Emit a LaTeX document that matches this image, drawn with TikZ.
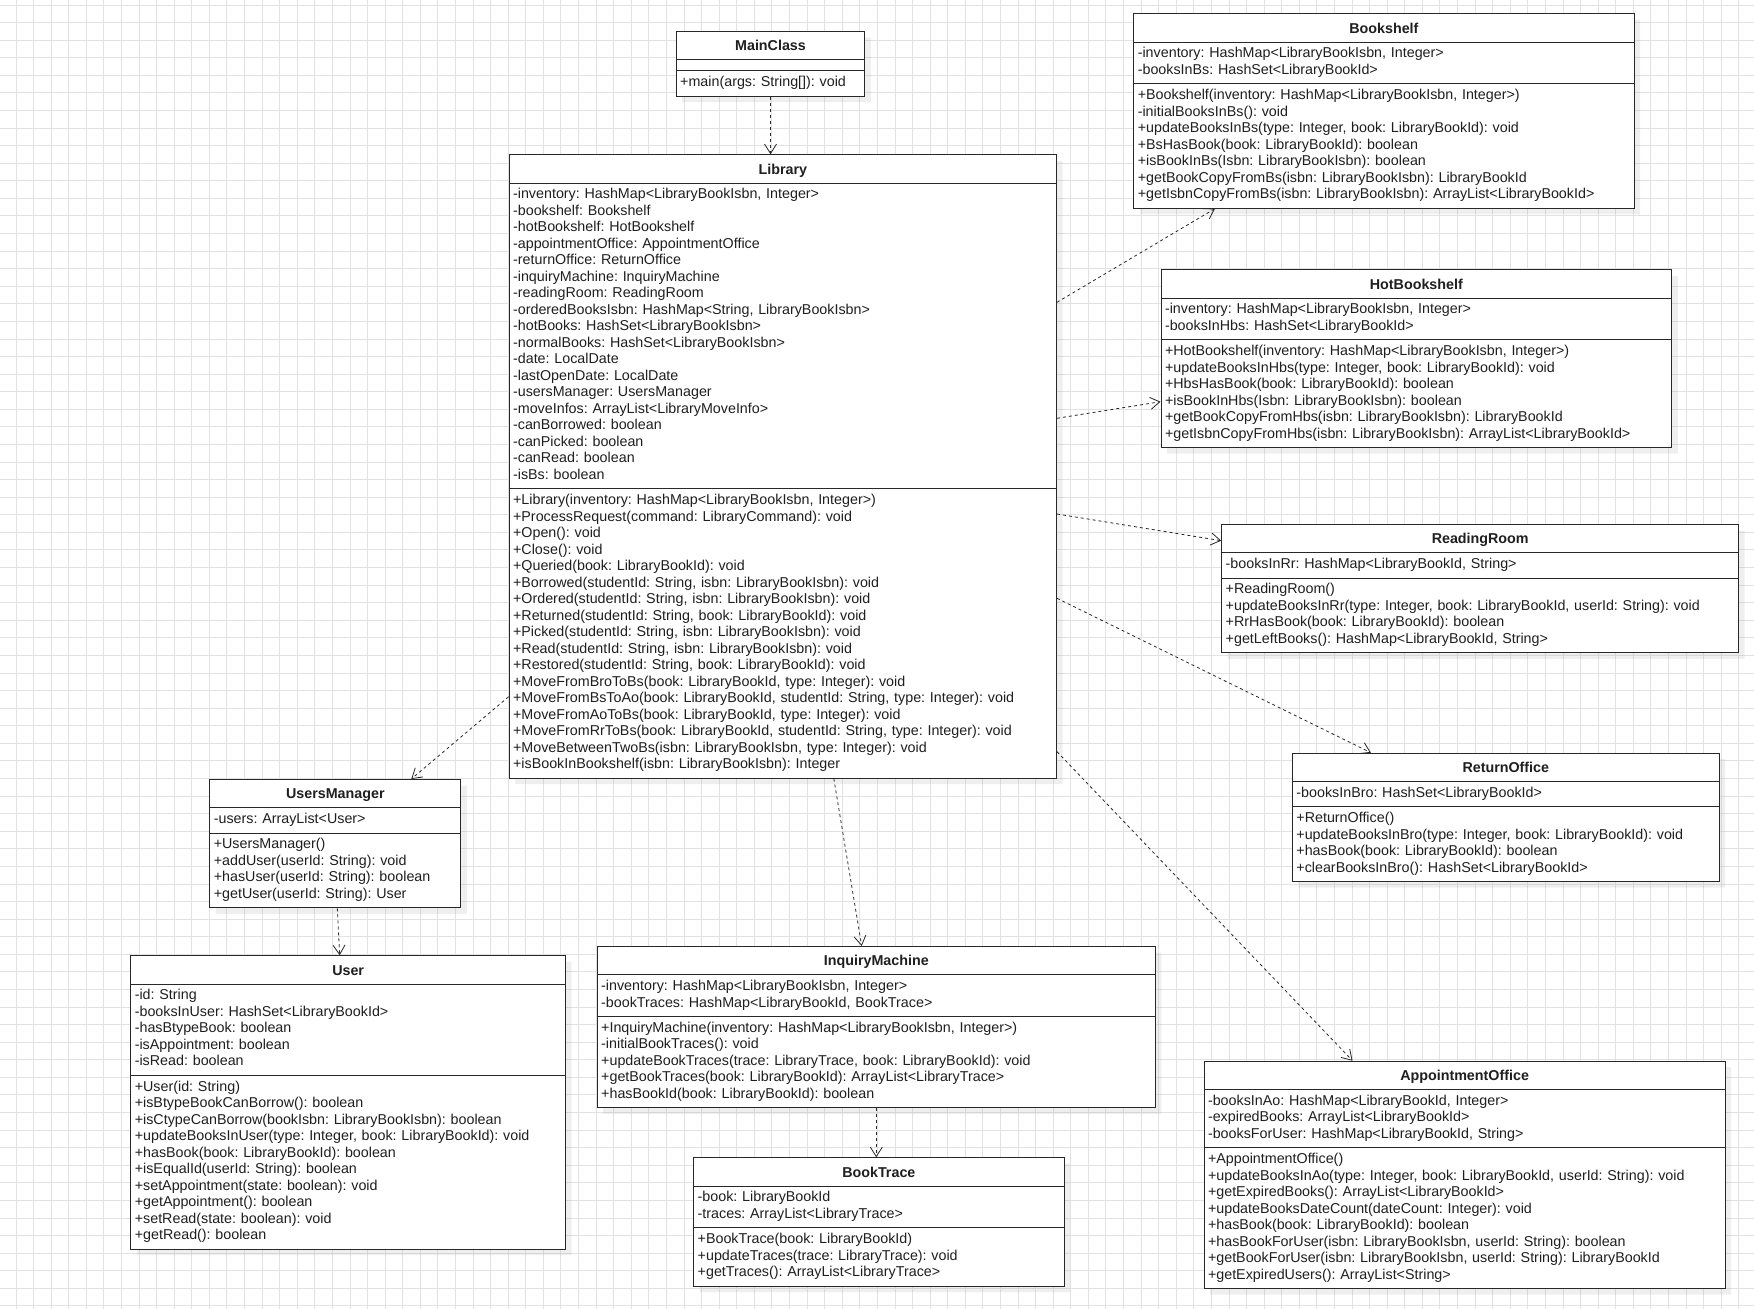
\documentclass[tikz,border=0pt]{standalone}
\usepackage{fontspec}
\setmainfont{Liberation Sans}
\usepackage{tikz}
\usetikzlibrary{arrows.meta,shapes.multipart,shadows}
\definecolor{gridgray}{RGB}{226,226,226}
\definecolor{umlline}{RGB}{40,40,40}
\frenchspacing

\begin{document}
\begin{tikzpicture}[x=1pt,y=-1pt, every node/.style={font=\fontsize{14.3}{16.5}\selectfont}]
    % Styles
    \tikzset{gridline/.style={draw=gridgray,line width=1pt}}
    \tikzset{umlclass/.style={rectangle split,rectangle split parts=3,draw=umlline,line width=1pt,fill=white,
        align=left,inner xsep=4pt,inner ysep=3.9pt,anchor=north west,text=black!88,
        drop shadow={shadow xshift=6pt,shadow yshift=-6pt,opacity=0.12}}}
    \tikzset{dep/.style={draw=umlline,line width=0.8pt,dash pattern=on 3pt off 3pt,
        -{Straight Barb[length=9.5pt,width=12pt]}}}

    % Page and grid
    \fill[white] (0,0) rectangle (1754,1309);
    \useasboundingbox (0,0) rectangle (1754,1309);
    \foreach \i in {0,...,99} \draw[gridline] ({16+17.58*\i},0) -- ({16+17.58*\i},1309);
    \foreach \j in {0,...,74} \draw[gridline] (0,{5+17.58*\j}) -- (1754,{5+17.58*\j});

    % Classes
    \node[umlclass,text width=180.6pt] (main) at (675.7,31) {\makebox[\linewidth]{\rule[-4.4pt]{0pt}{19.4pt}\textbf{MainClass}}
      \nodepart{second}\rule{0pt}{2.2pt}
      \nodepart{third}\strut+main(args: String[]): void\strut};

    \node[umlclass,text width=539.4pt] (lib) at (508.6,154.3) {\makebox[\linewidth]{\rule[-4.4pt]{0pt}{19.4pt}\textbf{Library}}
      \nodepart{second}\strut-inventory: HashMap<LibraryBookIsbn, Integer>\\
      -bookshelf: Bookshelf\\
      -hotBookshelf: HotBookshelf\\
      -appointmentOffice: AppointmentOffice\\
      -returnOffice: ReturnOffice\\
      -inquiryMachine: InquiryMachine\\
      -readingRoom: ReadingRoom\\
      -orderedBooksIsbn: HashMap<String, LibraryBookIsbn>\\
      -hotBooks: HashSet<LibraryBookIsbn>\\
      -normalBooks: HashSet<LibraryBookIsbn>\\
      -date: LocalDate\\
      -lastOpenDate: LocalDate\\
      -usersManager: UsersManager\\
      -moveInfos: ArrayList<LibraryMoveInfo>\\
      -canBorrowed: boolean\\
      -canPicked: boolean\\
      -canRead: boolean\\
      -isBs: boolean\strut
      \nodepart{third}\strut+Library(inventory: HashMap<LibraryBookIsbn, Integer>)\\
      +ProcessRequest(command: LibraryCommand): void\\
      +Open(): void\\
      +Close(): void\\
      +Queried(book: LibraryBookId): void\\
      +Borrowed(studentId: String, isbn: LibraryBookIsbn): void\\
      +Ordered(studentId: String, isbn: LibraryBookIsbn): void\\
      +Returned(studentId: String, book: LibraryBookId): void\\
      +Picked(studentId: String, isbn: LibraryBookIsbn): void\\
      +Read(studentId: String, isbn: LibraryBookIsbn): void\\
      +Restored(studentId: String, book: LibraryBookId): void\\
      +MoveFromBroToBs(book: LibraryBookId, type: Integer): void\\
      +MoveFromBsToAo(book: LibraryBookId, studentId: String, type: Integer): void\\
      +MoveFromAoToBs(book: LibraryBookId, type: Integer): void\\
      +MoveFromRrToBs(book: LibraryBookId, studentId: String, type: Integer): void\\
      +MoveBetweenTwoBs(isbn: LibraryBookIsbn, type: Integer): void\\
      +isBookInBookshelf(isbn: LibraryBookIsbn): Integer\strut};

    \node[umlclass,text width=492.2pt] (bs) at (1133.3,13.3) {\makebox[\linewidth]{\rule[-4.4pt]{0pt}{19.4pt}\textbf{Bookshelf}}
      \nodepart{second}\strut-inventory: HashMap<LibraryBookIsbn, Integer>\\
      -booksInBs: HashSet<LibraryBookId>\strut
      \nodepart{third}\strut+Bookshelf(inventory: HashMap<LibraryBookIsbn, Integer>)\\
      -initialBooksInBs(): void\\
      +updateBooksInBs(type: Integer, book: LibraryBookId): void\\
      +BsHasBook(book: LibraryBookId): boolean\\
      +isBookInBs(Isbn: LibraryBookIsbn): boolean\\
      +getBookCopyFromBs(isbn: LibraryBookIsbn): LibraryBookId\\
      +getIsbnCopyFromBs(isbn: LibraryBookIsbn): ArrayList<LibraryBookId>\strut};

    \node[umlclass,text width=502.8pt] (hbs) at (1160.5,269.3) {\makebox[\linewidth]{\rule[-4.4pt]{0pt}{19.4pt}\textbf{HotBookshelf}}
      \nodepart{second}\strut-inventory: HashMap<LibraryBookIsbn, Integer>\\
      -booksInHbs: HashSet<LibraryBookId>\strut
      \nodepart{third}\strut+HotBookshelf(inventory: HashMap<LibraryBookIsbn, Integer>)\\
      +updateBooksInHbs(type: Integer, book: LibraryBookId): void\\
      +HbsHasBook(book: LibraryBookId): boolean\\
      +isBookInHbs(Isbn: LibraryBookIsbn): boolean\\
      +getBookCopyFromHbs(isbn: LibraryBookIsbn): LibraryBookId\\
      +getIsbnCopyFromHbs(isbn: LibraryBookIsbn): ArrayList<LibraryBookId>\strut};

    \node[umlclass,text width=509pt] (rr) at (1221.2,524) {\makebox[\linewidth]{\rule[-4.4pt]{0pt}{19.4pt}\textbf{ReadingRoom}}
      \nodepart{second}\strut-booksInRr: HashMap<LibraryBookId, String>\strut
      \nodepart{third}\strut+ReadingRoom()\\
      +updateBooksInRr(type: Integer, book: LibraryBookId, userId: String): void\\
      +RrHasBook(book: LibraryBookId): boolean\\
      +getLeftBooks(): HashMap<LibraryBookId, String>\strut};

    \node[umlclass,text width=418.8pt] (ro) at (1291.9,752.7) {\makebox[\linewidth]{\rule[-4.4pt]{0pt}{19.4pt}\textbf{ReturnOffice}}
      \nodepart{second}\strut-booksInBro: HashSet<LibraryBookId>\strut
      \nodepart{third}\strut+ReturnOffice()\\
      +updateBooksInBro(type: Integer, book: LibraryBookId): void\\
      +hasBook(book: LibraryBookId): boolean\\
      +clearBooksInBro(): HashSet<LibraryBookId>\strut};

    \node[umlclass,text width=513.2pt] (ao) at (1203.5,1060.7) {\makebox[\linewidth]{\rule[-4.4pt]{0pt}{19.4pt}\textbf{AppointmentOffice}}
      \nodepart{second}\strut-booksInAo: HashMap<LibraryBookId, Integer>\\
      -expiredBooks: ArrayList<LibraryBookId>\\
      -booksForUser: HashMap<LibraryBookId, String>\strut
      \nodepart{third}\strut+AppointmentOffice()\\
      +updateBooksInAo(type: Integer, book: LibraryBookId, userId: String): void\\
      +getExpiredBooks(): ArrayList<LibraryBookId>\\
      +updateBooksDateCount(dateCount: Integer): void\\
      +hasBook(book: LibraryBookId): boolean\\
      +hasBookForUser(isbn: LibraryBookIsbn, userId: String): boolean\\
      +getBookForUser(isbn: LibraryBookIsbn, userId: String): LibraryBookId\\
      +getExpiredUsers(): ArrayList<String>\strut};

    \node[umlclass,text width=243pt] (um) at (209.3,779) {\makebox[\linewidth]{\rule[-4.4pt]{0pt}{19.4pt}\textbf{UsersManager}}
      \nodepart{second}\strut-users: ArrayList<User>\strut
      \nodepart{third}\strut+UsersManager()\\
      +addUser(userId: String): void\\
      +hasUser(userId: String): boolean\\
      +getUser(userId: String): User\strut};

    \node[umlclass,text width=426.7pt] (user) at (130.3,955.3) {\makebox[\linewidth]{\rule[-4.4pt]{0pt}{19.4pt}\textbf{User}}
      \nodepart{second}\strut-id: String\\
      -booksInUser: HashSet<LibraryBookId>\\
      -hasBtypeBook: boolean\\
      -isAppointment: boolean\\
      -isRead: boolean\strut
      \nodepart{third}\strut+User(id: String)\\
      +isBtypeBookCanBorrow(): boolean\\
      +isCtypeCanBorrow(bookIsbn: LibraryBookIsbn): boolean\\
      +updateBooksInUser(type: Integer, book: LibraryBookId): void\\
      +hasBook(book: LibraryBookId): boolean\\
      +isEqualId(userId: String): boolean\\
      +setAppointment(state: boolean): void\\
      +getAppointment(): boolean\\
      +setRead(state: boolean): void\\
      +getRead(): boolean\strut};

    \node[umlclass,text width=550.2pt] (im) at (596.7,946) {\makebox[\linewidth]{\rule[-4.4pt]{0pt}{19.4pt}\textbf{InquiryMachine}}
      \nodepart{second}\strut-inventory: HashMap<LibraryBookIsbn, Integer>\\
      -bookTraces: HashMap<LibraryBookId, BookTrace>\strut
      \nodepart{third}\strut+InquiryMachine(inventory: HashMap<LibraryBookIsbn, Integer>)\\
      -initialBookTraces(): void\\
      +updateBookTraces(trace: LibraryTrace, book: LibraryBookId): void\\
      +getBookTraces(book: LibraryBookId): ArrayList<LibraryTrace>\\
      +hasBookId(book: LibraryBookId): boolean\strut};

    \node[umlclass,text width=362.3pt] (bt) at (693.2,1157.3) {\makebox[\linewidth]{\rule[-4.4pt]{0pt}{19.4pt}\textbf{BookTrace}}
      \nodepart{second}\strut-book: LibraryBookId\\
      -traces: ArrayList<LibraryTrace>\strut
      \nodepart{third}\strut+BookTrace(book: LibraryBookId)\\
      +updateTraces(trace: LibraryTrace): void\\
      +getTraces(): ArrayList<LibraryTrace>\strut};

    % Dependencies
    \draw[dep] (main.south) -- (main.south |- lib.north);
    \draw[dep] ([yshift=-148pt]lib.north east) -- ([xshift=81.7pt]bs.south west);
    \draw[dep] ([yshift=-264pt]lib.north east) -- ([yshift=-132.4pt]hbs.north west);
    \draw[dep] ([yshift=-359.7pt]lib.north east) -- ([yshift=-16.7pt]rr.north west);
    \draw[dep] ([yshift=-444pt]lib.north east) -- ([xshift=79pt]ro.north west);
    \draw[dep] ([yshift=-597.4pt]lib.north east) -- ([xshift=149pt]ao.north west);
    \draw[dep] ([yshift=-542.4pt]lib.north west) -- ([xshift=202pt]um.north west);
    \draw[dep] ([xshift=2pt]um.south) -- ([xshift=-8.5pt]user.north);
    \draw[dep] ([xshift=51pt]lib.south) -- ([xshift=-14.6pt]im.north);
    \draw[dep] (im.south) -- (im.south |- bt.north);
\end{tikzpicture}
\end{document}
